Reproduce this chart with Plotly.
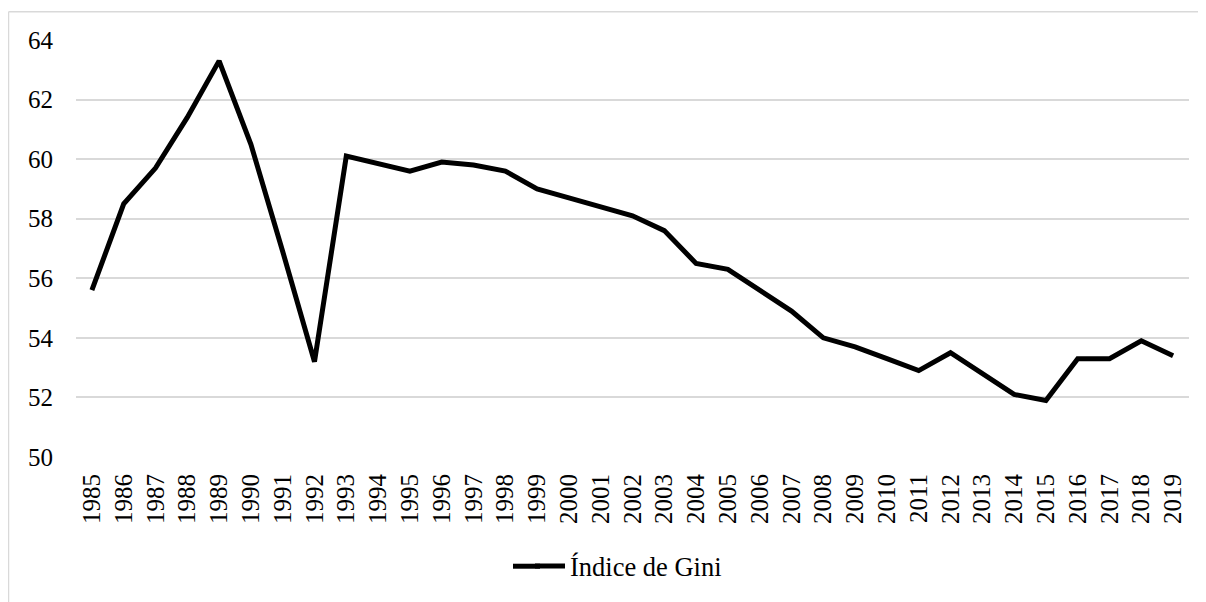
import plotly.graph_objects as go

years = [str(y) for y in range(1985, 2020)]
gini = [55.6, 58.5, 59.7, 61.4, 63.3, 60.5, 56.9, 53.2, 60.1, 59.85,
        59.6, 59.9, 59.8, 59.6, 59.0, 58.7, 58.4, 58.1, 57.6, 56.5,
        56.3, 55.6, 54.9, 54.0, 53.7, 53.3, 52.9, 53.5, 52.8, 52.1,
        51.9, 53.3, 53.3, 53.9, 53.4]
series_name = "Índice de Gini"

# page has an 8px body margin; figure placed at (8, 8)
OFF = 8
W, H = 1206 - OFF, 602 - OFF
L, R, T, B = 76 - OFF, 17, 40 - OFF, 142
pw, ph = W - L - R, H - T - B

def px_x(p):  # page pixel -> paper x
    return (p - OFF - L) / pw

def px_y(p):  # page pixel -> paper y
    return 1 - (p - OFF - T) / ph

FONT = "Liberation Serif"

fig = go.Figure()
fig.add_trace(go.Scatter(
    x=years, y=gini, mode="lines", name=series_name,
    line=dict(color="black", width=5),
    showlegend=True,
))

fig.update_layout(
    width=W, height=H,
    margin=dict(l=L, r=R, t=T, b=B),
    paper_bgcolor="white", plot_bgcolor="white",
    font=dict(family=FONT, size=25, color="black"),
    showlegend=True,
    legend=dict(orientation="h", x=px_x(530), xanchor="left", y=px_y(570), yanchor="middle",
                font=dict(family=FONT, size=26.5), itemwidth=30, bgcolor="rgba(0,0,0,0)"),
    xaxis=dict(type="category", tickangle=-90, showgrid=False, showline=False,
               range=[-0.5, len(years) - 0.5],
               zeroline=False, ticks="", ticklabelstandoff=11,
               tickfont=dict(family=FONT, size=25)),
    yaxis=dict(range=[50, 64], dtick=2, tick0=50, showgrid=True, gridcolor="#d9d9d9",
               gridwidth=1.5, zeroline=False, showline=False, ticks="",
               ticklabelstandoff=22, tickfont=dict(family=FONT, size=25)),
    shapes=[
        # chart-area border (left and top edges visible)
        dict(type="line", xref="paper", yref="paper",
             x0=px_x(8.5), x1=px_x(8.5), y0=px_y(11.5), y1=px_y(620),
             line=dict(color="#d9d9d9", width=1.5)),
        dict(type="line", xref="paper", yref="paper",
             x0=px_x(8.5), x1=px_x(1230), y0=px_y(11.5), y1=px_y(11.5),
             line=dict(color="#d9d9d9", width=1.5)),
        # extend legend key line to Excel-like length
        dict(type="line", xref="paper", yref="paper",
             x0=px_x(513), x1=px_x(540), y0=px_y(570), y1=px_y(570),
             line=dict(color="black", width=5)),
    ],
)

fig.write_html("out.html")
